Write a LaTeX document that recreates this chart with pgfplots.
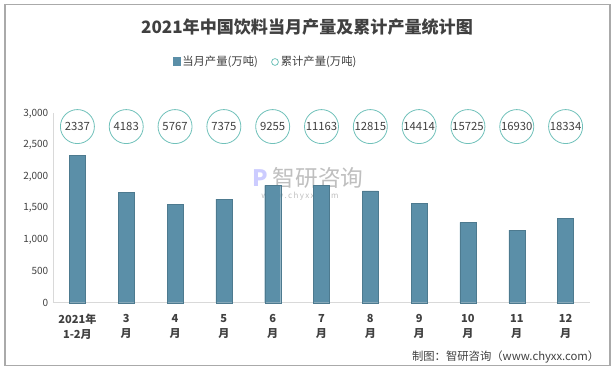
\documentclass[border=0pt]{standalone}
\usepackage{pgfplots}
\pgfplotsset{compat=1.18}
\usepackage{fontspec}
\setmainfont{Noto Sans CJK SC}
\definecolor{barc}{RGB}{91,143,168}
\definecolor{circc}{RGB}{112,193,186}
\definecolor{txt}{RGB}{64,64,64}
\definecolor{axc}{RGB}{217,217,217}
\begin{document}
\begin{tikzpicture}[x=0.75pt,y=0.75pt]
\useasboundingbox (0,0) rectangle (615,370);
\draw[color={rgb,255:red,170;green,170;blue,170},line width=0.8pt] (5,4.5) rectangle (610,365.5);
% title
\node[font=\bfseries\fontsize{12.8}{15}\selectfont, text=txt] at (307,343) {2021年中国饮料当月产量及累计产量统计图};
% legend
\fill[barc] (173,303.5) rectangle (180.5,312.5);
\node[anchor=west, font=\fontsize{8.5}{10}\selectfont, text=txt, inner sep=0pt] at (182,308) {当月产量(万吨)};
\draw[circc, line width=0.6pt] (275,308) circle (3.4);
\node[anchor=west, font=\fontsize{8.5}{10}\selectfont, text=txt, inner sep=0pt] at (280.5,308) {累计产量(万吨)};
% watermark
\node[font=\fontsize{17}{18}\selectfont, text=black!25] at (308,192) {\textbf{\textcolor{blue!20}{P}} 智研咨询};
\node[font=\fontsize{6}{7}\selectfont, text=black!25] at (300,174) {w\,w\,w\,.\,c\,h\,y\,x\,x\,.\,c\,o\,m};
% source
\node[anchor=east, font=\fontsize{8.5}{10}\selectfont, text=txt] at (604,13) {制图：智研咨询（www.chyxx.com）};
\begin{axis}[
  at={(39.75pt,50.5pt)}, anchor=south west,
  scale only axis, width=402.75pt, height=142pt,
  xmin=-0.5, xmax=10.5, ymin=0, ymax=3000,
  axis line style={axc},
  axis x line*=bottom, axis y line*=left,
  ytick={0,500,...,3000},
  yticklabel style={font=\fontsize{7.5}{9}\selectfont, text=txt},
  /pgf/number format/assume math mode=true,
  /pgf/number format/1000 sep={,},
  major y tick style={draw=none},
  xtick={0,...,10},
  xticklabels={{2021年\\1-2月},{3\\月},{4\\月},{5\\月},{6\\月},{7\\月},{8\\月},{9\\月},{10\\月},{11\\月},{12\\月}},
  xticklabel style={font=\bfseries\fontsize{8.3}{11.5}\selectfont, text=txt, align=center, yshift=-5pt},
  major x tick style={draw=none},
  extra x ticks={-0.5,0.5,...,10.5},
  extra x tick labels={},
  extra x tick style={tick align=outside, major tick length=4pt, tick style={axc, draw=axc}},
  clip=false,
]
\addplot[ybar, bar width=12pt, fill=barc, draw=barc!85!black, line width=0.2pt] coordinates {
(0,2337) (1,1750) (2,1560) (3,1642) (4,1860) (5,1862) (6,1770) (7,1575) (8,1273) (9,1150) (10,1338)};
\addplot[only marks, mark=*, mark size=12.75pt, mark options={draw=circc, fill=white, line width=0.6pt},
  nodes near coords, point meta=explicit symbolic,
  every node near coord/.style={anchor=center, font=\fontsize{8.5}{10}\selectfont, text=txt, inner sep=0pt}]
 table[meta=lab] {
x y lab
0 2790 2337
1 2790 4183
2 2790 5767
3 2790 7375
4 2790 9255
5 2790 11163
6 2790 12815
7 2790 14414
8 2790 15725
9 2790 16930
10 2790 18334
};
\end{axis}
\end{tikzpicture}
\end{document}
